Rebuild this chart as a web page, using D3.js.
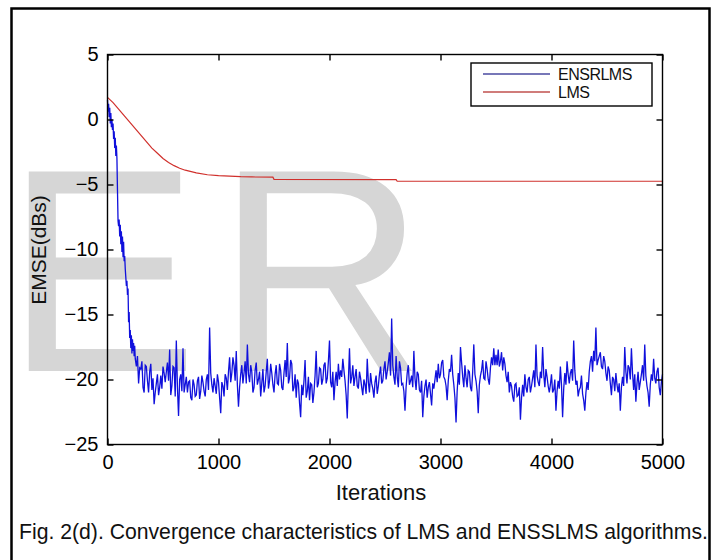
<!DOCTYPE html>
<html>
<head>
<meta charset="utf-8">
<script src="https://cdn.jsdelivr.net/npm/d3@7"></script>
<style>
  html, body { margin: 0; padding: 0; background: #fff; }
  svg { display: block; font-family: "Liberation Sans", Arial, sans-serif; }
</style>
</head>
<body>
<svg id="chart" width="713" height="560"></svg>
<script>
// Tick values
const xTicks = [0, 1000, 2000, 3000, 4000, 5000];
const yTicks = [5, 0, -5, -10, -15, -20, -25];

// LMS learning curve (iteration, EMSE in dB)
const lmsIter = [0, 50, 100, 150, 200, 250, 300, 350, 400, 450, 500, 550, 600, 650, 700, 800, 900, 1000, 1100, 1200, 1300, 1490, 1500, 2600, 2610, 5000];
const lmsEmse = [1.7, 1.3, 0.8, 0.3, -0.2, -0.7, -1.2, -1.7, -2.2, -2.6, -3.0, -3.3, -3.55, -3.75, -3.9, -4.1, -4.25, -4.32, -4.36, -4.4, -4.42, -4.44, -4.6, -4.62, -4.75, -4.75];

// ENSRLMS transient (iteration, EMSE in dB)
const ensIterA = [0, 5, 10, 15, 20, 25, 30, 35, 40, 45, 50, 55, 60, 65, 70, 75, 80, 85, 90, 95, 100, 105, 110, 115, 120, 125, 130, 135, 140, 145, 150, 155, 160, 170, 175, 180, 185, 190, 195, 200, 205, 210, 215, 220, 225, 230, 235, 240, 245, 250, 260, 270, 280, 290];
const ensEmseA = [1.5, 0.6, 1.2, 0.2, 0.9, -0.3, 0.5, -0.6, 0.0, -0.8, -0.3, -1.5, -0.9, -2.2, -1.4, -2.8, -2.0, -3.0, -5.5, -7.8, -8.2, -7.7, -9.0, -8.1, -9.6, -8.6, -10.2, -9.0, -10.6, -9.4, -10.9, -10.5, -11.5, -12.8, -12.4, -13.5, -13.0, -15.6, -14.8, -16.8, -16.2, -17.6, -16.6, -18.0, -16.9, -17.8, -17.2, -18.2, -17.4, -18.4, -19.0, -18.2, -20.3, -19.1];

// ENSRLMS steady state: samples at 300, 320, ..., 5000
const ensStart = 300, ensStep = 20;
const ensEmseB = [
  -19.2, -20.6, -18.9, -20.1, -19.4, -20.8, -21.9, -20.3, -21.2, -19.7,
  -19.0, -20.2, -18.7, -17.7, -20.5, -19.1, -17.0, -22.8, -19.6, -17.6,
  -20.4, -21.0, -20.1, -21.6, -20.4, -21.2, -19.8, -20.9, -20.2, -21.3,
  -19.6, -16.0, -20.4, -19.9, -21.1, -20.2, -22.6, -20.5, -19.6, -20.8,
  -18.3, -19.5, -18.9, -17.8, -22.1, -19.6, -20.3, -18.6, -17.3, -20.2,
  -19.4, -20.6, -18.7, -20.0, -21.3, -19.2, -20.5, -18.4, -20.1, -19.5,
  -21.0, -18.9, -20.4, -19.3, -20.8, -18.5, -17.2, -19.9, -18.8, -20.6,
  -21.4, -20.3, -22.9, -21.2, -18.5, -20.9, -21.6, -20.4, -21.0, -17.8,
  -20.3, -19.2, -20.0, -18.7, -19.9, -17.0, -20.6, -21.6, -19.4, -18.8,
  -19.3, -18.4, -20.1, -23.0, -17.6, -19.8, -20.5, -19.2, -20.7, -19.9,
  -21.2, -20.4, -18.4, -21.0, -20.3, -21.4, -19.7, -20.5, -19.0, -20.1,
  -18.6, -19.4, -17.9, -15.3, -19.8, -18.2, -20.6, -19.1, -20.3, -22.4,
  -19.5, -20.4, -19.7, -17.8, -20.8, -19.6, -21.0, -22.9, -20.5, -21.4,
  -20.2, -22.0, -20.7, -19.3, -18.8, -19.6, -18.5, -20.0, -21.6, -19.2,
  -18.1, -20.4, -23.3, -19.5, -17.5, -19.8, -18.9, -20.6, -19.4, -20.9,
  -17.3, -20.1, -22.6, -19.7, -18.5, -20.0, -19.2, -20.4, -18.3, -17.6,
  -18.1, -17.7, -18.6, -19.3, -18.8, -20.2, -21.0, -20.5, -21.7, -20.3,
  -21.2, -23.1, -20.4, -19.6, -21.0, -19.8, -20.5, -19.3, -17.3, -20.2,
  -19.4, -17.5, -20.6, -19.8, -21.0, -19.6, -20.8, -22.4, -20.1, -19.0,
  -22.9, -19.5, -18.6, -20.3, -19.2, -17.0, -20.4, -21.3, -20.6, -21.1,
  -22.4, -20.2, -19.4, -18.2, -17.8, -16.0, -18.5, -17.9, -19.2, -18.6,
  -20.1, -19.3, -21.2, -20.0, -19.5, -21.0, -22.4, -19.8, -17.5, -20.3,
  -19.1, -17.6, -20.8, -21.7, -19.4, -20.2, -18.9, -17.3, -20.5, -22.1,
  -19.6, -18.4, -20.3, -19.1, -21.2, -19.6
];
// ENSRLMS steady state: in-between samples at 310, 330, ..., 4990
const ensEmseC = [
  -18.6, -21.0, -19.0, -21.0, -18.8, -19.9, -21.0, -19.6, -20.6, -20.7,
  -19.5, -19.4, -20.1, -21.2, -19.0, -21.3, -20.6, -20.0, -20.9, -21.0,
  -19.8, -20.2, -21.4, -20.0, -21.3, -20.1, -21.5, -19.7, -20.9, -20.0,
  -20.8, -19.5, -21.0, -20.5, -19.6, -21.4, -20.2, -21.3, -19.9, -19.4,
  -20.2, -18.3, -20.1, -20.4, -20.6, -18.9, -19.5, -20.3, -19.6, -18.9,
  -21.0, -19.3, -20.4, -19.4, -20.3, -21.0, -19.4, -20.7, -18.8, -20.4,
  -19.6, -20.3, -18.8, -20.6, -19.5, -19.8, -20.3, -18.5, -20.9, -19.6,
  -20.0, -21.8, -20.4, -20.1, -21.4, -19.8, -20.3, -21.8, -19.7, -20.6,
  -19.1, -20.4, -18.9, -20.3, -18.6, -20.2, -19.4, -20.2, -20.5, -20.0,
  -19.8, -19.3, -21.2, -20.1, -20.3, -18.9, -19.8, -20.5, -19.4, -20.6,
  -20.0, -21.1, -20.2, -19.5, -20.7, -20.2, -21.1, -19.6, -20.3, -19.2,
  -20.0, -18.7, -19.7, -18.9, -20.4, -19.8, -18.6, -20.4, -20.9, -20.6,
  -18.9, -20.1, -20.6, -19.9, -19.4, -20.8, -20.1, -21.3, -20.0, -20.6,
  -21.1, -20.3, -20.0, -20.2, -19.9, -18.7, -19.8, -20.5, -20.1, -19.4,
  -19.6, -21.4, -20.9, -20.4, -18.7, -20.6, -19.9, -19.3, -20.6, -19.4,
  -19.6, -20.9, -20.4, -19.3, -19.9, -18.6, -20.0, -19.1, -18.9, -18.9,
  -18.9, -19.0, -17.9, -18.3, -19.7, -19.4, -20.2, -21.3, -20.4, -21.3,
  -20.6, -21.4, -21.3, -20.6, -20.0, -21.0, -19.9, -20.6, -19.7, -20.5,
  -19.9, -19.6, -19.2, -20.5, -20.4, -21.0, -20.0, -20.9, -20.7, -20.4,
  -20.7, -20.4, -19.6, -19.5, -20.1, -19.3, -20.1, -20.8, -19.7, -21.6,
  -21.0, -20.8, -18.6, -19.4, -18.6, -18.9, -18.2, -19.0, -18.2, -19.5,
  -19.0, -20.3, -19.8, -20.9, -20.4, -20.3, -20.6, -20.5, -19.4, -18.9,
  -20.0, -19.5, -19.6, -20.3, -20.8, -19.6, -20.1, -19.7, -21.0, -20.4,
  -20.1, -19.9, -19.4, -20.6, -20.2
];

const seriesNames = ["ENSRLMS", "LMS"];
const seriesColors = ["#1010dc", "#d0302c"];
const legendColors = ["#4a4aa0", "#c0504e"];

const svg = d3.select("#chart");
const W = 713, H = 560;
const plot = { left: 107.5, right: 662.5, top: 54.5, bottom: 444.5 };

const x = d3.scaleLinear().domain([0, 5000]).range([plot.left, plot.right]);
const y = d3.scaleLinear().domain([-25, 5]).range([plot.bottom, plot.top]);

// Page background
svg.append("rect").attr("x", 0).attr("y", 0).attr("width", W).attr("height", H).attr("fill", "#fff");

// Large light-grey lettering behind the curves
const wm = svg.append("g").attr("fill", "#d6d6d6")
  .style("font-family", "'Liberation Sans', Arial, sans-serif");
wm.append("text").attr("x", 5).attr("y", 371).attr("font-size", 290).text("E");
wm.append("text").attr("x", 216).attr("y", 371).attr("font-size", 290).text("R");

// Series data
const ensData = ensIterA.map((it, i) => ({ it, v: ensEmseA[i] }));
ensEmseB.forEach((v, i) => {
  ensData.push({ it: ensStart + i * ensStep, v });
  if (i < ensEmseC.length) ensData.push({ it: ensStart + i * ensStep + ensStep / 2, v: ensEmseC[i] });
});
const lmsData = lmsIter.map((it, i) => ({ it, v: lmsEmse[i] }));

const line = d3.line().x(d => x(d.it)).y(d => y(d.v));

svg.append("path").datum(ensData)
  .attr("d", line).attr("fill", "none")
  .attr("stroke", seriesColors[0]).attr("stroke-width", 1.3);

svg.append("path").datum(lmsData)
  .attr("d", line).attr("fill", "none")
  .attr("stroke", seriesColors[1]).attr("stroke-width", 1.2);

// Axes: box with inward ticks on every side
const tickLen = 6;
svg.append("rect")
  .attr("x", plot.left).attr("y", plot.top)
  .attr("width", plot.right - plot.left).attr("height", plot.bottom - plot.top)
  .attr("fill", "none").attr("stroke", "#000").attr("stroke-width", 1.4);

const xAxisB = d3.axisBottom(x).tickValues(xTicks).tickSizeInner(-tickLen).tickSizeOuter(0).tickPadding(10).tickFormat(d3.format("d"));
const xAxisT = d3.axisTop(x).tickValues(xTicks).tickSizeInner(-tickLen).tickSizeOuter(0).tickFormat("");
const yAxisL = d3.axisLeft(y).tickValues(yTicks).tickSizeInner(-tickLen).tickSizeOuter(0).tickPadding(9).tickFormat(d3.format("d"));
const yAxisR = d3.axisRight(y).tickValues(yTicks).tickSizeInner(-tickLen).tickSizeOuter(0).tickFormat("");

function styleAxis(g) {
  g.select(".domain").remove();
  g.selectAll(".tick line").attr("stroke", "#000").attr("stroke-width", 1.4);
  g.selectAll(".tick text").attr("fill", "#000")
    .style("font-family", "'Liberation Sans', Arial, sans-serif").style("font-size", "20px");
}

svg.append("g").attr("transform", `translate(0,${plot.bottom})`).call(xAxisB).call(styleAxis);
svg.append("g").attr("transform", `translate(0,${plot.top})`).call(xAxisT).call(styleAxis);
svg.append("g").attr("transform", `translate(${plot.left},0)`).call(yAxisL).call(styleAxis);
svg.append("g").attr("transform", `translate(${plot.right},0)`).call(yAxisR).call(styleAxis);

// Axis titles
svg.append("text")
  .attr("x", (plot.left + plot.right) / 2 - 4).attr("y", 500)
  .attr("text-anchor", "middle").attr("font-size", 22).attr("fill", "#111")
  .text("Iterations");

svg.append("text")
  .attr("transform", `translate(46,250) rotate(-90)`)
  .attr("text-anchor", "middle").attr("font-size", 21).attr("fill", "#111")
  .text("EMSE(dBs)");

// Legend
const lg = svg.append("g");
lg.append("rect")
  .attr("x", 471).attr("y", 63).attr("width", 181).attr("height", 43)
  .attr("fill", "#fff").attr("stroke", "#000").attr("stroke-width", 1.4);
const legendY = [74, 92];
seriesNames.forEach((name, i) => {
  lg.append("line")
    .attr("x1", 483).attr("x2", 550).attr("y1", legendY[i]).attr("y2", legendY[i])
    .attr("stroke", legendColors[i]).attr("stroke-width", 1.6);
  lg.append("text")
    .attr("x", 558).attr("y", legendY[i]).attr("dy", "0.36em")
    .attr("font-size", 16).attr("fill", "#111").attr("letter-spacing", -0.5)
    .text(name);
});

// Caption
svg.append("text")
  .attr("x", 19).attr("y", 539)
  .attr("font-size", 21.2).attr("fill", "#111")
  .text("Fig. 2(d). Convergence characteristics of LMS and ENSSLMS algorithms.");

// Outer frame
svg.append("rect")
  .attr("x", 11.5).attr("y", 8.5).attr("width", 698).attr("height", 580)
  .attr("fill", "none").attr("stroke", "#000").attr("stroke-width", 2.5);
</script>
</body>
</html>
